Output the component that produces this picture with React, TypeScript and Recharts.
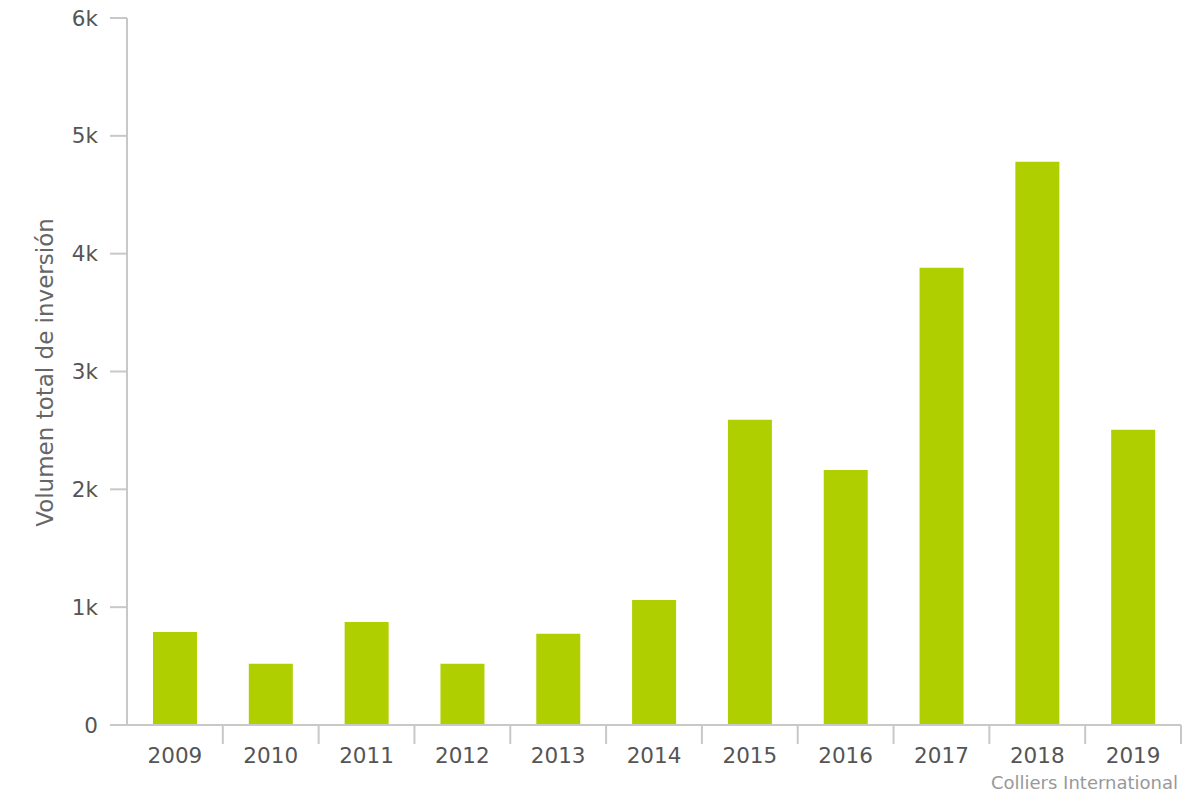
import React from 'react';
import { BarChart, Bar, XAxis, YAxis } from 'recharts';

const years = ['2009', '2010', '2011', '2012', '2013', '2014', '2015', '2016', '2017', '2018', '2019'];
const volumes = [790, 520, 875, 520, 775, 1060, 2590, 2165, 3880, 4780, 2505];
const yTicks = [0, 1000, 2000, 3000, 4000, 5000, 6000];

const data = years.map((year, i) => ({ year, volume: volumes[i] }));

const WIDTH = 1200;
const HEIGHT = 800;
const MARGIN = { top: 18, right: 19, bottom: 0, left: 0 };
const X_AXIS_H = 75;
const Y_AXIS_W = 127;
const BAND = (WIDTH - MARGIN.left - MARGIN.right - Y_AXIS_W) / years.length;
const FONT = '"DejaVu Sans", sans-serif';

const XTick = (props: any) => {
  const { x, y, payload } = props;
  return (
    <g>
      <line x1={x + BAND / 2} y1={y} x2={x + BAND / 2} y2={y + 19} stroke="#c8c8c8" strokeWidth={2} />
      <text x={x} y={y + 38} textAnchor="middle" fill="#555" fontSize={21.5} fontFamily={FONT}>
        {payload.value}
      </text>
    </g>
  );
};

const YLabel = (props: any) => {
  const { viewBox } = props;
  const cx = 45;
  const cy = viewBox.y + viewBox.height / 2 + 1;
  return (
    <text
      x={cx}
      y={cy}
      transform={`rotate(-90, ${cx}, ${cy})`}
      textAnchor="middle"
      dominantBaseline="central"
      fill="#666"
      fontSize={23}
      fontFamily={FONT}
    >
      Volumen total de inversión
    </text>
  );
};

export default function App() {
  return (
    <div style={{ position: 'absolute', left: 0, top: 0, width: WIDTH, height: HEIGHT, background: '#fff' }}>
      <BarChart width={WIDTH} height={HEIGHT} data={data} margin={MARGIN} barSize={44}>
        <XAxis
          dataKey="year"
          height={X_AXIS_H}
          axisLine={{ stroke: '#c8c8c8', strokeWidth: 2 }}
          tickLine={false}
          tickSize={0}
          tickMargin={0}
          tick={<XTick />}
          interval={0}
        />
        <YAxis
          width={Y_AXIS_W}
          domain={[0, 6000]}
          ticks={yTicks}
          interval={0}
          tickFormatter={(v: number) => (v === 0 ? '0' : `${v / 1000}k`)}
          axisLine={{ stroke: '#c8c8c8', strokeWidth: 2 }}
          tickLine={{ stroke: '#c8c8c8', strokeWidth: 2 }}
          tickSize={17}
          tickMargin={12}
          tick={{ fill: '#555', fontSize: 21.5, fontFamily: FONT }}
          label={{ content: <YLabel /> }}
        />
        <Bar dataKey="volume" fill="#b0cf00" isAnimationActive={false} />
      </BarChart>
      <div
        style={{
          position: 'absolute',
          right: 22,
          top: 772,
          fontFamily: FONT,
          fontSize: 18,
          color: '#999',
        }}
      >
        Colliers International
      </div>
    </div>
  );
}
